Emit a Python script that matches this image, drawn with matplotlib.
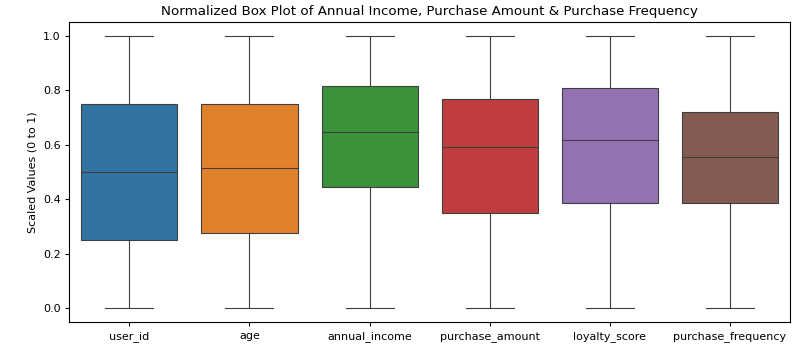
import matplotlib
matplotlib.use("Agg")
import matplotlib.pyplot as plt

categories = ["user_id", "age", "annual_income", "purchase_amount", "loyalty_score", "purchase_frequency"]
whisker_low = [0.0, 0.0, 0.0, 0.0, 0.0, 0.0]
q1 = [0.251, 0.275, 0.447, 0.349, 0.386, 0.388]
median = [0.501, 0.516, 0.646, 0.594, 0.618, 0.556]
q3 = [0.751, 0.751, 0.816, 0.770, 0.809, 0.721]
whisker_high = [1.0, 1.0, 1.0, 1.0, 1.0, 1.0]
colors = ["#3274a1", "#e1812c", "#3a923a", "#c03d3e", "#9372b2", "#845b53"]

fig = plt.figure(figsize=(7.99, 3.55), dpi=100)
ax = fig.add_axes([69.3/799, 1 - 322/355, (790 - 69.3)/799, (322 - 22.3)/355])

stats = []
for i, c in enumerate(categories):
    stats.append(dict(label=c, whislo=whisker_low[i], q1=q1[i], med=median[i],
                      q3=q3[i], whishi=whisker_high[i], fliers=[]))

line_c = "#3f3f3f"
lw = 0.8
bp = ax.bxp(stats, positions=range(len(categories)), widths=0.8, patch_artist=True,
            showfliers=False,
            boxprops=dict(edgecolor=line_c, linewidth=lw),
            medianprops=dict(color=line_c, linewidth=lw),
            whiskerprops=dict(color=line_c, linewidth=lw),
            capprops=dict(color=line_c, linewidth=lw),
            capwidths=0.4)
for patch, col in zip(bp["boxes"], colors):
    patch.set_facecolor(col)

for sp in ax.spines.values():
    sp.set_linewidth(0.8)
ax.tick_params(labelsize=8, width=0.8, length=2.8)
ax.set_xlim(-0.5, len(categories) - 0.5)
ax.set_ylim(-0.05, 1.05)
ax.set_xticks(range(len(categories)))
ax.set_xticklabels(categories)
ax.set_yticks([0.0, 0.2, 0.4, 0.6, 0.8, 1.0])
ax.set_ylabel("Scaled Values (0 to 1)", fontsize=8)
ax.set_title("Normalized Box Plot of Annual Income, Purchase Amount & Purchase Frequency", fontsize=9.6, pad=5)

fig.savefig("out.png", dpi=100)
